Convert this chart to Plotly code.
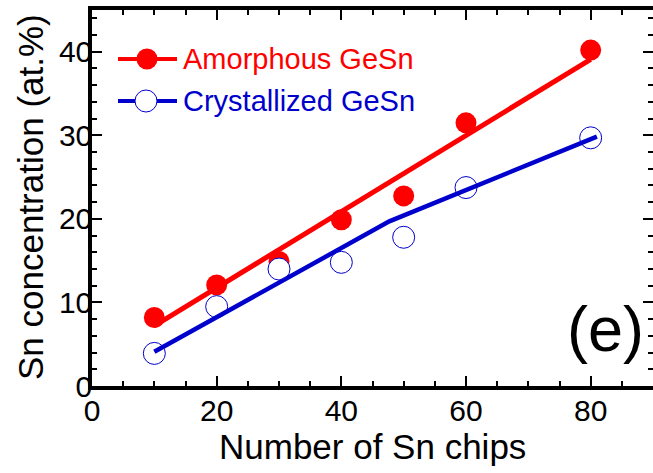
import plotly.graph_objects as go

# Data
chips = [10, 20, 30, 40, 50, 60, 80]
amorphous = [8.2, 12.1, 14.9, 19.9, 22.75, 31.5, 40.2]
crystallized = [3.9, 9.5, 14.0, 14.8, 17.8, 23.75, 29.7]

# Guide lines (as drawn in the figure)
amor_line_x = [10, 80]
amor_line_y = [7.2, 39.1]
crys_line_x = [10, 47.7, 81]
crys_line_y = [4.1, 19.7, 29.85]

x_ticks = [0, 20, 40, 60, 80]
y_ticks = [0, 10, 20, 30, 40]

series_names = ["Amorphous GeSn", "Crystallized GeSn"]
x_title = "Number of Sn chips"
y_title = "Sn concentration (at.%)"
panel_label = "(e)"

RED = "#ff0000"
BLUE = "#0000cc"
FONT = "Arial, Liberation Sans, sans-serif"

W, H = 653, 473
L, R, T, B = 92, 0, 10, 87
PW, PH = W - L - R, H - T - B


def px(xp):
    return (xp - L) / PW


def py(yp):
    return (H - B - yp) / PH


fig = go.Figure()

fig.add_trace(go.Scatter(
    x=chips, y=amorphous, mode="markers", name=series_names[0],
    marker=dict(symbol="circle", size=21, color=RED, line=dict(width=0)),
    showlegend=False, cliponaxis=False))
fig.add_trace(go.Scatter(
    x=amor_line_x, y=amor_line_y, mode="lines",
    line=dict(color=RED, width=5), showlegend=False))
fig.add_trace(go.Scatter(
    x=chips, y=crystallized, mode="markers", name=series_names[1],
    marker=dict(symbol="circle", size=22, color="white", line=dict(width=1, color=BLUE)),
    showlegend=False, cliponaxis=False))
fig.add_trace(go.Scatter(
    x=crys_line_x, y=crys_line_y, mode="lines",
    line=dict(color=BLUE, width=4.5), showlegend=False))

axis_common = dict(
    showline=True, linecolor="black", linewidth=3.5, mirror="ticks",
    ticks="inside", ticklen=10, tickwidth=2, tickcolor="black",
    showgrid=False, zeroline=False, automargin=False,
    tickfont=dict(family=FONT, size=30, color="black"),
)

fig.update_xaxes(
    range=[0, 90], tickvals=x_ticks, ticktext=[str(v) for v in x_ticks],
    minor=dict(dtick=5, tick0=0, ticks="inside", ticklen=5, tickwidth=2, tickcolor="black", showgrid=False),
    ticklabelstandoff=-5,
    **axis_common)
fig.update_yaxes(
    range=[0, 45], tickvals=y_ticks, ticktext=[str(v) for v in y_ticks],
    minor=dict(dtick=2, tick0=0, ticks="inside", ticklen=5, tickwidth=2, tickcolor="black", showgrid=False),
    ticklabelstandoff=-10,
    **axis_common)

# Axis titles
fig.add_annotation(text=x_title, xref="paper", yref="paper",
                   x=px(372), y=py(447), xanchor="center", yanchor="middle",
                   showarrow=False, font=dict(family=FONT, size=35, color="black"))
fig.add_annotation(text=y_title, xref="paper", yref="paper",
                   x=px(30), y=py(197), xanchor="center", yanchor="middle",
                   textangle=-90, showarrow=False,
                   font=dict(family=FONT, size=35, color="black"))

# Legend drawn inside the plot (line + marker + label)
legend_rows = [
    dict(name=series_names[0], color=RED, fill=RED, outline=0, ly=59, mx=147, d=21),
    dict(name=series_names[1], color=BLUE, fill="white", outline=1, ly=101, mx=146, d=22),
]
for row in legend_rows:
    fig.add_shape(type="line", xref="paper", yref="paper",
                  x0=px(118), x1=px(177), y0=py(row["ly"]), y1=py(row["ly"]),
                  line=dict(color=row["color"], width=4))
    r = row["d"] / 2
    fig.add_shape(type="circle", xref="paper", yref="paper",
                  xsizemode="pixel", ysizemode="pixel",
                  xanchor=px(row["mx"]), yanchor=py(row["ly"]),
                  x0=-r, x1=r, y0=-r, y1=r,
                  fillcolor=row["fill"],
                  line=dict(color=row["color"], width=row["outline"]))
    fig.add_annotation(text=row["name"], xref="paper", yref="paper",
                       x=px(181), y=py(row["ly"]), xanchor="left", yanchor="middle",
                       showarrow=False,
                       font=dict(family=FONT, size=29, color=row["color"]))

fig.add_annotation(
    text=panel_label, xref="paper", yref="paper", x=px(646), y=py(366),
    xanchor="right", yanchor="bottom", showarrow=False,
    font=dict(family=FONT, size=63, color="black"))

fig.update_layout(
    template=None,
    width=W, height=H,
    margin=dict(l=L, r=R, t=T, b=B, pad=0),
    plot_bgcolor="white", paper_bgcolor="white",
    showlegend=False,
)

fig.write_html(
    "out.html",
    config={"displayModeBar": False},
    post_script="document.body.style.margin='0';document.body.style.overflow='hidden';",
)
